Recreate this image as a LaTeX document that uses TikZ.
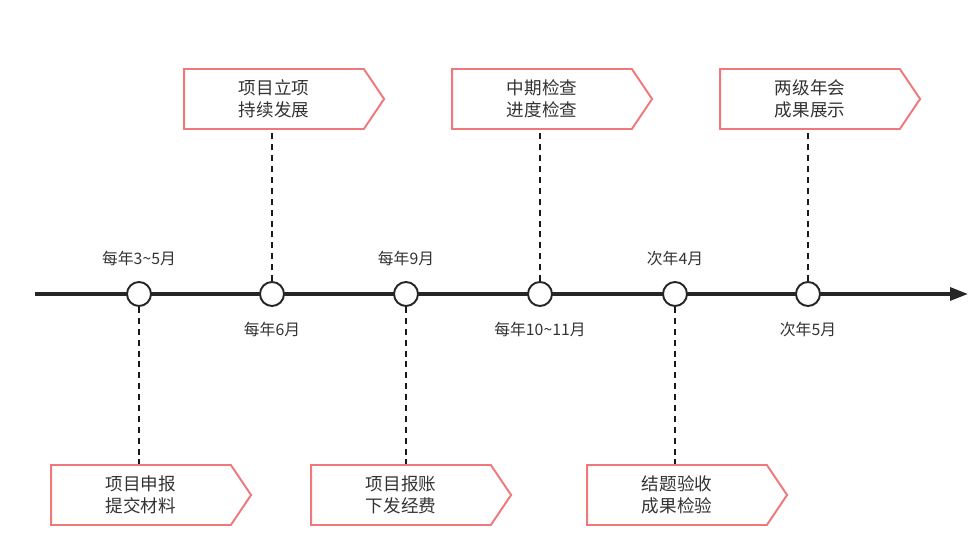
\documentclass[tikz,border=0pt]{standalone}
\usepackage{fontspec}
\setmainfont{Noto Sans CJK SC}
\usetikzlibrary{positioning, arrows.meta, shapes.symbols, calc}
\definecolor{boxred}{RGB}{240,120,122}
\definecolor{inkgray}{RGB}{51,51,51}

\begin{document}
\begin{tikzpicture}[x=0.02cm, y=-0.02cm]
	\tikzset{
		dot/.style={circle, draw=black!85, line width=1.1pt, fill=white, minimum size=0.48cm, inner sep=0pt},
		stage/.style={signal, signal to=east, signal pointer angle=112, draw=boxred, line width=1.1pt, fill=white,
			minimum width=4cm, minimum height=1.2cm, inner sep=0pt, align=center, text=inkgray,
			font=\fontsize{10}{12.5}\selectfont},
		datetxt/.style={text=inkgray, font=\fontsize{9}{11}\selectfont, inner sep=0pt},
		link/.style={dashed, dash pattern=on 3.4pt off 2.8pt, line width=1.2pt, black!90}
	}
	\useasboundingbox (0,0) rectangle (978,546);
	
	% 时间轴
	\coordinate (axL) at (35,294);
	\coordinate (axR) at (968,294);
	\draw[line width=1.8pt, black!85, -{Triangle[length=0.36cm, width=0.26cm]}] (axL) -- (axR);
	
	% 节点
	\foreach \x [count=\i] in {139,272,406,540,675,808} {
		\node[dot] (t\i) at (\x,294) {};
	}
	
	% 日期
	\node[datetxt] (d1) at (139,258) {每年3\textasciitilde5月};
	\node[datetxt] (d2) at (272,329) {每年6月};
	\node[datetxt] (d3) at (406,258) {每年9月};
	\node[datetxt] (d4) at (540,329) {每年10\textasciitilde11月};
	\node[datetxt] (d5) at (675,258) {次年4月};
	\node[datetxt] (d6) at (808,329) {次年5月};
	
	% 上方
	\node[stage] (s2) at (274,99) {项目立项\\持续发展};
	\node[stage] (s4) at (542,99) {中期检查\\进度检查};
	\node[stage] (s6) at (810,99) {两级年会\\成果展示};
	
	% 下方
	\node[stage] (s1) at (141,495) {项目申报\\提交材料};
	\node[stage] (s3) at (401,495) {项目报账\\下发经费};
	\node[stage] (s5) at (677,495) {结题验收\\成果检验};
	
	% 虚线
	\draw[link] (t2.north) -- (t2 |- s2.south);
	\draw[link] (t4.north) -- (t4 |- s4.south);
	\draw[link] (t6.north) -- (t6 |- s6.south);
	\draw[link] (t1.south) -- (t1 |- s1.north);
	\draw[link] (t3.south) -- (t3 |- s3.north);
	\draw[link] (t5.south) -- (t5 |- s5.north);
\end{tikzpicture}
\end{document}
